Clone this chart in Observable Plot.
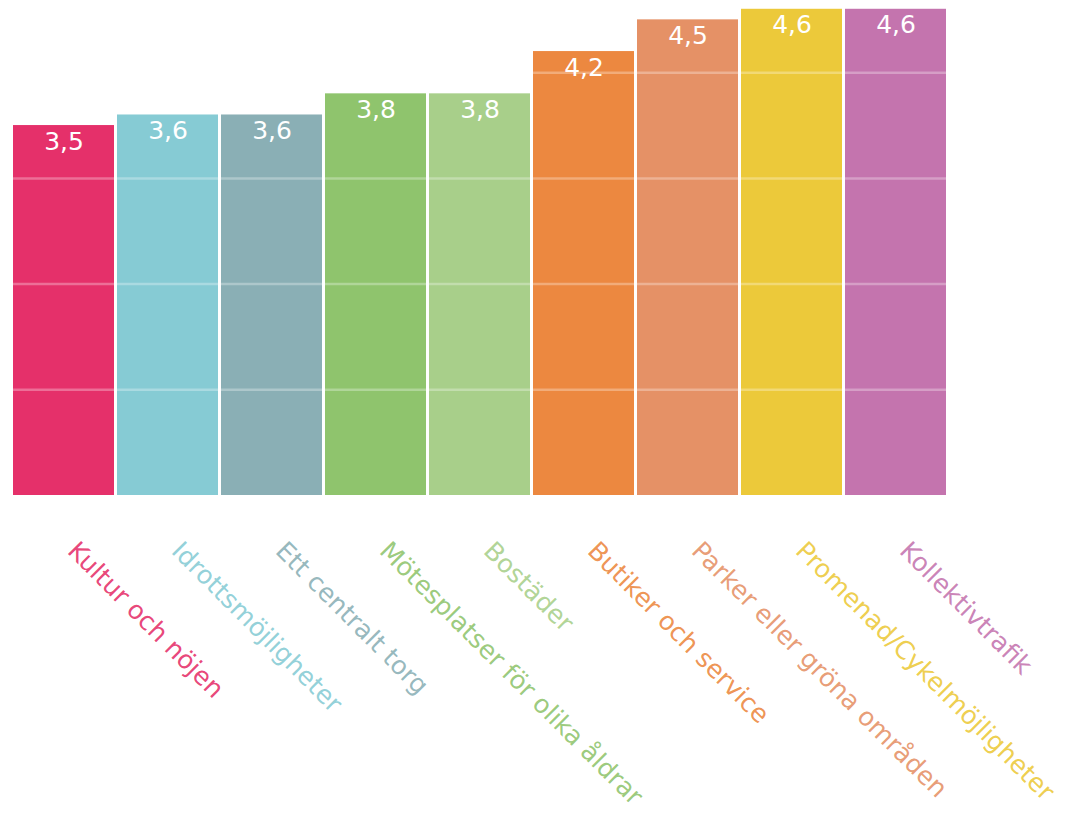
<!DOCTYPE html>
<html>
<head>
<meta charset="utf-8">
<script src="https://cdn.jsdelivr.net/npm/d3@7"></script>
<script src="https://cdn.jsdelivr.net/npm/@observablehq/plot@0.6"></script>
<style>
  html, body { margin: 0; padding: 0; background: #fff; }
  #chart svg { display: block; }
</style>
</head>
<body>
<div id="chart"></div>
<script>
const categories = [
  "Kultur och nöjen",
  "Idrottsmöjligheter",
  "Ett centralt torg",
  "Mötesplatser för olika åldrar",
  "Bostäder",
  "Butiker och service",
  "Parker eller gröna områden",
  "Promenad/Cykelmöjligheter",
  "Kollektivtrafik"
];
const values = [3.5, 3.6, 3.6, 3.8, 3.8, 4.2, 4.5, 4.6, 4.6];
const colors = ["#E5306A", "#86CBD4", "#8AAFB5", "#8FC46D", "#A8CF8A", "#EC8840", "#E59166", "#ECC93A", "#C474AE"];
const gridValues = [1, 2, 3, 4];

const data = categories.map((c, i) => ({category: c, value: values[i], color: colors[i]}));
const fmt = v => v.toFixed(1).replace(".", ",");

const chart = Plot.plot({
  width: 1067,
  height: 814,
  marginLeft: 13,
  marginRight: 120,
  marginTop: 0,
  marginBottom: 319,
  style: {fontFamily: "'DejaVu Sans', Verdana, sans-serif", background: "#fff"},
  x: {domain: categories, paddingInner: 0.025, paddingOuter: 0, axis: null},
  y: {domain: [0, 495 / 105.7], axis: null},
  marks: [
    Plot.barY(data, {x: "category", y: "value", fill: d => d.color}),
    Plot.ruleY(gridValues, {stroke: "white", strokeOpacity: 0.3, strokeWidth: 2.5}),
    Plot.text(data, {x: "category", y: "value", text: d => fmt(d.value), fill: "white", fontSize: 25, dy: 16, lineAnchor: "middle"}),
    Plot.text(data, {x: "category", frameAnchor: "bottom", text: "category", fill: d => d.color, fillOpacity: 0.9, fontSize: 25.5, rotate: 45, textAnchor: "start", lineAnchor: "middle", dy: 51, dx: 8})
  ]
});
document.getElementById("chart").appendChild(chart);
</script>
</body>
</html>
